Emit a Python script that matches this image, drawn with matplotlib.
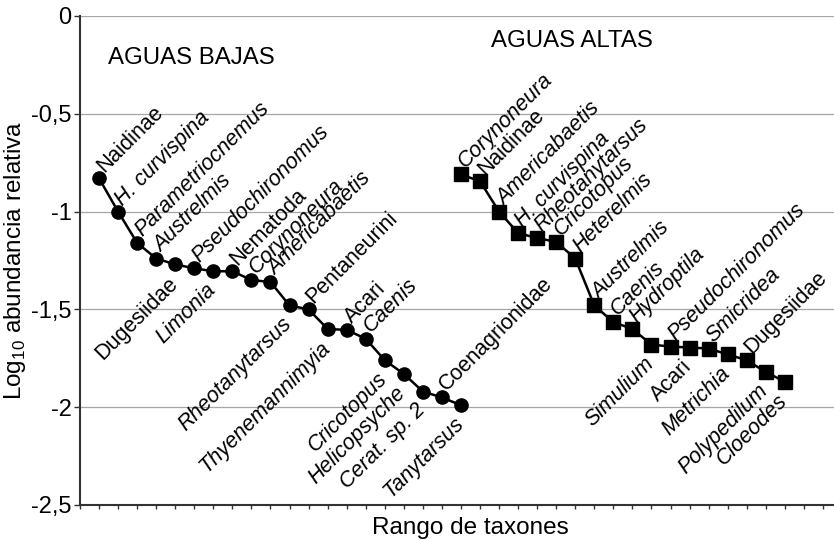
import numpy as np
import matplotlib
matplotlib.use("Agg")
import matplotlib.pyplot as plt

plt.rcParams["font.family"] = ["Liberation Sans", "DejaVu Sans"]

# ---------------------------------------------------------------------------
# Data
# ---------------------------------------------------------------------------

bajas_taxa = [
    "Naidinae", "H. curvispina", "Parametriocnemus", "Austrelmis", "Dugesiidae",
    "Pseudochironomus", "Limonia", "Nematoda", "Corynoneura", "Americabaetis",
    "Rheotanytarsus", "Pentaneurini", "Thyenemannimyia", "Acari", "Caenis",
    "Cricotopus", "Helicopsyche", "Cerat. sp. 2", "Coenagrionidae", "Tanytarsus",
]
bajas_vals = [
    -0.83, -1.00, -1.16, -1.24, -1.27, -1.29, -1.305, -1.305, -1.35, -1.36,
    -1.48, -1.50, -1.60, -1.605, -1.65, -1.76, -1.83, -1.92, -1.95, -1.99,
]

altas_taxa = [
    "Corynoneura", "Naidinae", "Americabaetis", "H. curvispina", "Rheotanytarsus",
    "Cricotopus", "Heterelmis", "Austrelmis", "Caenis", "Hydroptila", "Simulium",
    "Pseudochironomus", "Acari", "Smicridea", "Metrichia", "Dugesiidae",
    "Polypedilum", "Cloeodes",
]
altas_vals = [
    -0.81, -0.845, -1.00, -1.11, -1.135, -1.155, -1.24, -1.48, -1.565, -1.60,
    -1.68, -1.69, -1.695, -1.70, -1.73, -1.76, -1.82, -1.87,
]

# labels drawn under the curve (the rest go above)
bajas_below = ["Dugesiidae", "Limonia", "Rheotanytarsus", "Thyenemannimyia",
               "Cricotopus", "Helicopsyche", "Cerat. sp. 2", "Tanytarsus"]
altas_below = ["Simulium", "Acari", "Metrichia", "Polypedilum", "Cloeodes"]

# non-genus names are set upright
upright = ["Naidinae", "Nematoda", "Dugesiidae", "Pentaneurini", "Acari",
           "Coenagrionidae"]

yticks = [0, -0.5, -1, -1.5, -2, -2.5]
ytick_labels = ["0", "-0,5", "-1", "-1,5", "-2", "-2,5"]

# ---------------------------------------------------------------------------
# Plot
# ---------------------------------------------------------------------------

fig = plt.figure(figsize=(8.34, 5.40), dpi=100)
ax = fig.add_axes([80 / 834, 35 / 540, 781 / 834, 489 / 540])

x_bajas = np.arange(1, len(bajas_vals) + 1)
x_altas = np.arange(len(bajas_vals), len(bajas_vals) + len(altas_vals))

ax.plot(x_bajas, bajas_vals, color="black", lw=1.8, marker="o", ms=9.5, zorder=3)
ax.plot(x_altas, altas_vals, color="black", lw=1.8, marker="s", ms=9.5, zorder=3)

LABEL_SIZE = 15.5


def label_points(xs, vals, names, below):
    for x, y, name in zip(xs, vals, names):
        style = "normal" if name in upright else "italic"
        if name in below:
            ax.annotate(name, (x, y), xytext=(-6, -6), textcoords="offset points",
                        ha="right", va="top", rotation=45, rotation_mode="anchor",
                        fontsize=LABEL_SIZE, style=style)
        else:
            ax.annotate(name, (x, y), xytext=(6, 1.5), textcoords="offset points",
                        ha="left", va="bottom", rotation=45, rotation_mode="anchor",
                        fontsize=LABEL_SIZE, style=style)


label_points(x_bajas, bajas_vals, bajas_taxa, bajas_below)
label_points(x_altas, altas_vals, altas_taxa, altas_below)

ax.text(1.47, -0.215, "AGUAS BAJAS", fontsize=17.3, ha="left", va="center")
ax.text(21.6, -0.128, "AGUAS ALTAS", fontsize=17.3, ha="left", va="center")

ax.set_xlim(0, 41)
ax.set_ylim(-2.5, 0)
ax.set_xticks(np.arange(0, 42))
ax.set_xticklabels([])
ax.set_yticks(yticks)
ax.set_yticklabels(ytick_labels, fontsize=17)
ax.tick_params(axis="x", direction="out", length=3, width=1, color="#333333")
ax.tick_params(axis="y", direction="out", length=4, width=1, color="#333333",
               pad=2)

ax.grid(axis="y", color="#a6a6a6", lw=0.9)
ax.set_axisbelow(True)
for side in ["top", "right"]:
    ax.spines[side].set_visible(False)
for side in ["left", "bottom"]:
    ax.spines[side].set_color("#333333")
    ax.spines[side].set_linewidth(1.5)

ax.set_xlabel("Rango de taxones", fontsize=17.5, labelpad=2)
ax.set_ylabel(r"Log$_{\mathregular{10}}$ abundancia relativa", fontsize=17.5)
ax.yaxis.set_label_coords(-52 / 781, 0.5)

fig.savefig("out.png", dpi=100)
